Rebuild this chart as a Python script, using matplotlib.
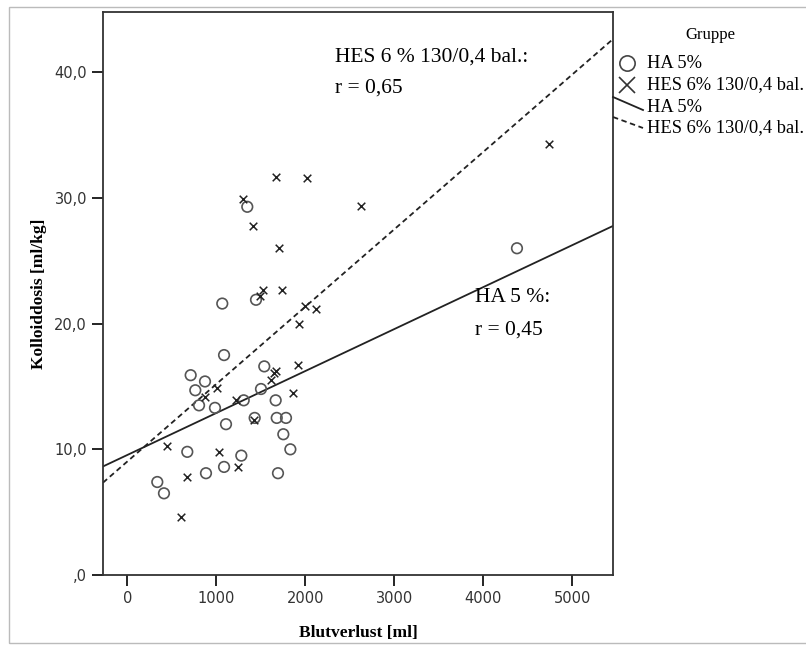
import matplotlib.pyplot as plt
import numpy as np
from matplotlib.lines import Line2D
from matplotlib.patches import Rectangle

# HA 5% (circles)
ha_blut = [1348, 1067, 1446, 4378, 1087, 1539, 712, 873, 764, 1502, 806, 985,
           1308, 1667, 1109, 1431, 1679, 1783, 1753, 1832, 674, 1281, 1087,
           884, 1693, 337, 412]
ha_dosis = [29.3, 21.6, 21.9, 26.0, 17.5, 16.6, 15.9, 15.4, 14.7, 14.8, 13.5, 13.3,
            13.9, 13.9, 12.0, 12.5, 12.5, 12.5, 11.2, 10.0, 9.8, 9.5, 8.6,
            8.1, 8.1, 7.4, 6.5]

# HES 6% 130/0,4 bal. (crosses)
hes_blut = [1667, 2019, 1297, 2626, 1409, 1701, 1521, 1738, 1491, 1993, 2124, 1933,
            4738, 1650, 1676, 1918, 1011, 869, 1611, 1218, 1865, 1420, 449, 1027,
            1240, 667, 607]
hes_dosis = [31.7, 31.6, 29.9, 29.4, 27.8, 26.0, 22.7, 22.7, 22.2, 21.4, 21.2, 20.0,
             34.3, 16.1, 16.2, 16.7, 14.9, 14.2, 15.5, 13.9, 14.5, 12.3, 10.3, 9.8,
             8.6, 7.8, 4.6]

# regression lines as drawn (intercept, slope)
ha_fit = (9.55, 0.00334)
hes_fit = (9.03, 0.00616)

x_ticks = [0, 1000, 2000, 3000, 4000, 5000]
y_ticks = [0, 10, 20, 30, 40]
y_ticklabels = [",0", "10,0", "20,0", "30,0", "40,0"]

W, H = 806, 650
fig = plt.figure(figsize=(W / 100, H / 100), dpi=100)
ax = fig.add_axes([103 / W, 1 - 575 / H, (613 - 103) / W, (575 - 12) / H])

xlim = (-273, 5457)
ylim = (0, 44.8)

ax.scatter(ha_blut, ha_dosis, s=58, facecolors='none', edgecolors='#555555',
           linewidths=1.2, zorder=3)
ax.scatter(hes_blut, hes_dosis, s=30, marker='x', color='#222222',
           linewidths=1.1, zorder=3)

xs = np.array(xlim)
ax.plot(xs, ha_fit[0] + ha_fit[1] * xs, color='#222222', lw=1.3)
ax.plot(xs, hes_fit[0] + hes_fit[1] * xs, color='#222222', lw=1.3, ls=(0, (3, 2)))

ax.set_xlim(*xlim)
ax.set_ylim(*ylim)
ax.set_xticks(x_ticks)
ax.set_xticklabels([str(v) for v in x_ticks])
ax.set_yticks(y_ticks)
ax.set_yticklabels(y_ticklabels)
ax.tick_params(direction='out', length=8, width=1.2, labelsize=10.5,
               labelcolor='#333333')
for s in ax.spines.values():
    s.set_linewidth(1.3)
    s.set_color('#333333')

ax.set_xlabel('Blutverlust [ml]', family='Liberation Serif', fontweight='bold',
              fontsize=12.5, labelpad=14)
ax.set_ylabel('Kolloiddosis [ml/kg]', family='Liberation Serif', fontweight='bold',
              fontsize=12.5, labelpad=5)

ax.text(2334, 42.0, 'HES 6 % 130/0,4 bal.:\nr = 0,65', family='Liberation Serif',
        fontsize=15.5, va='top', linespacing=1.9)
ax.text(3907, 22.8, 'HA 5 %:\nr = 0,45', family='Liberation Serif',
        fontsize=15.5, va='top', linespacing=1.9)

# legend (manual, SPSS style)
def fx(px):
    return px / W

def fy(py):
    return 1 - py / H

fig.text(fx(710), fy(35), 'Gruppe', family='Liberation Serif', fontsize=12,
         ha='center', va='center')
fig.add_artist(Line2D([fx(627)], [fy(63)], marker='o', ms=11, mfc='none',
                      mec='#444444', mew=1.2, transform=fig.transFigure))
fig.add_artist(Line2D([fx(627)], [fy(85)], marker='x', ms=11, color='#333333',
                      mew=1.2, transform=fig.transFigure))
fig.add_artist(Line2D([fx(613), fx(643)], [fy(97), fy(110)], color='#222222',
                      lw=1.3, transform=fig.transFigure))
fig.add_artist(Line2D([fx(613), fx(643)], [fy(117), fy(128)], color='#222222',
                      lw=1.3, ls=(0, (3, 2)), transform=fig.transFigure))
labels = ['HA 5%', 'HES 6% 130/0,4 bal.', 'HA 5%', 'HES 6% 130/0,4 bal.']
for lab, py in zip(labels, [63, 85, 107, 128]):
    fig.text(fx(647), fy(py), lab, family='Liberation Serif', fontsize=13.3,
             ha='left', va='center')

# outer grey frame
fig.add_artist(Rectangle((fx(9), fy(643)), 1.2, fy(7) - fy(643), fill=False,
                         ec='#bbbbbb', lw=1.0, transform=fig.transFigure))

fig.savefig('out.png', dpi=100)
